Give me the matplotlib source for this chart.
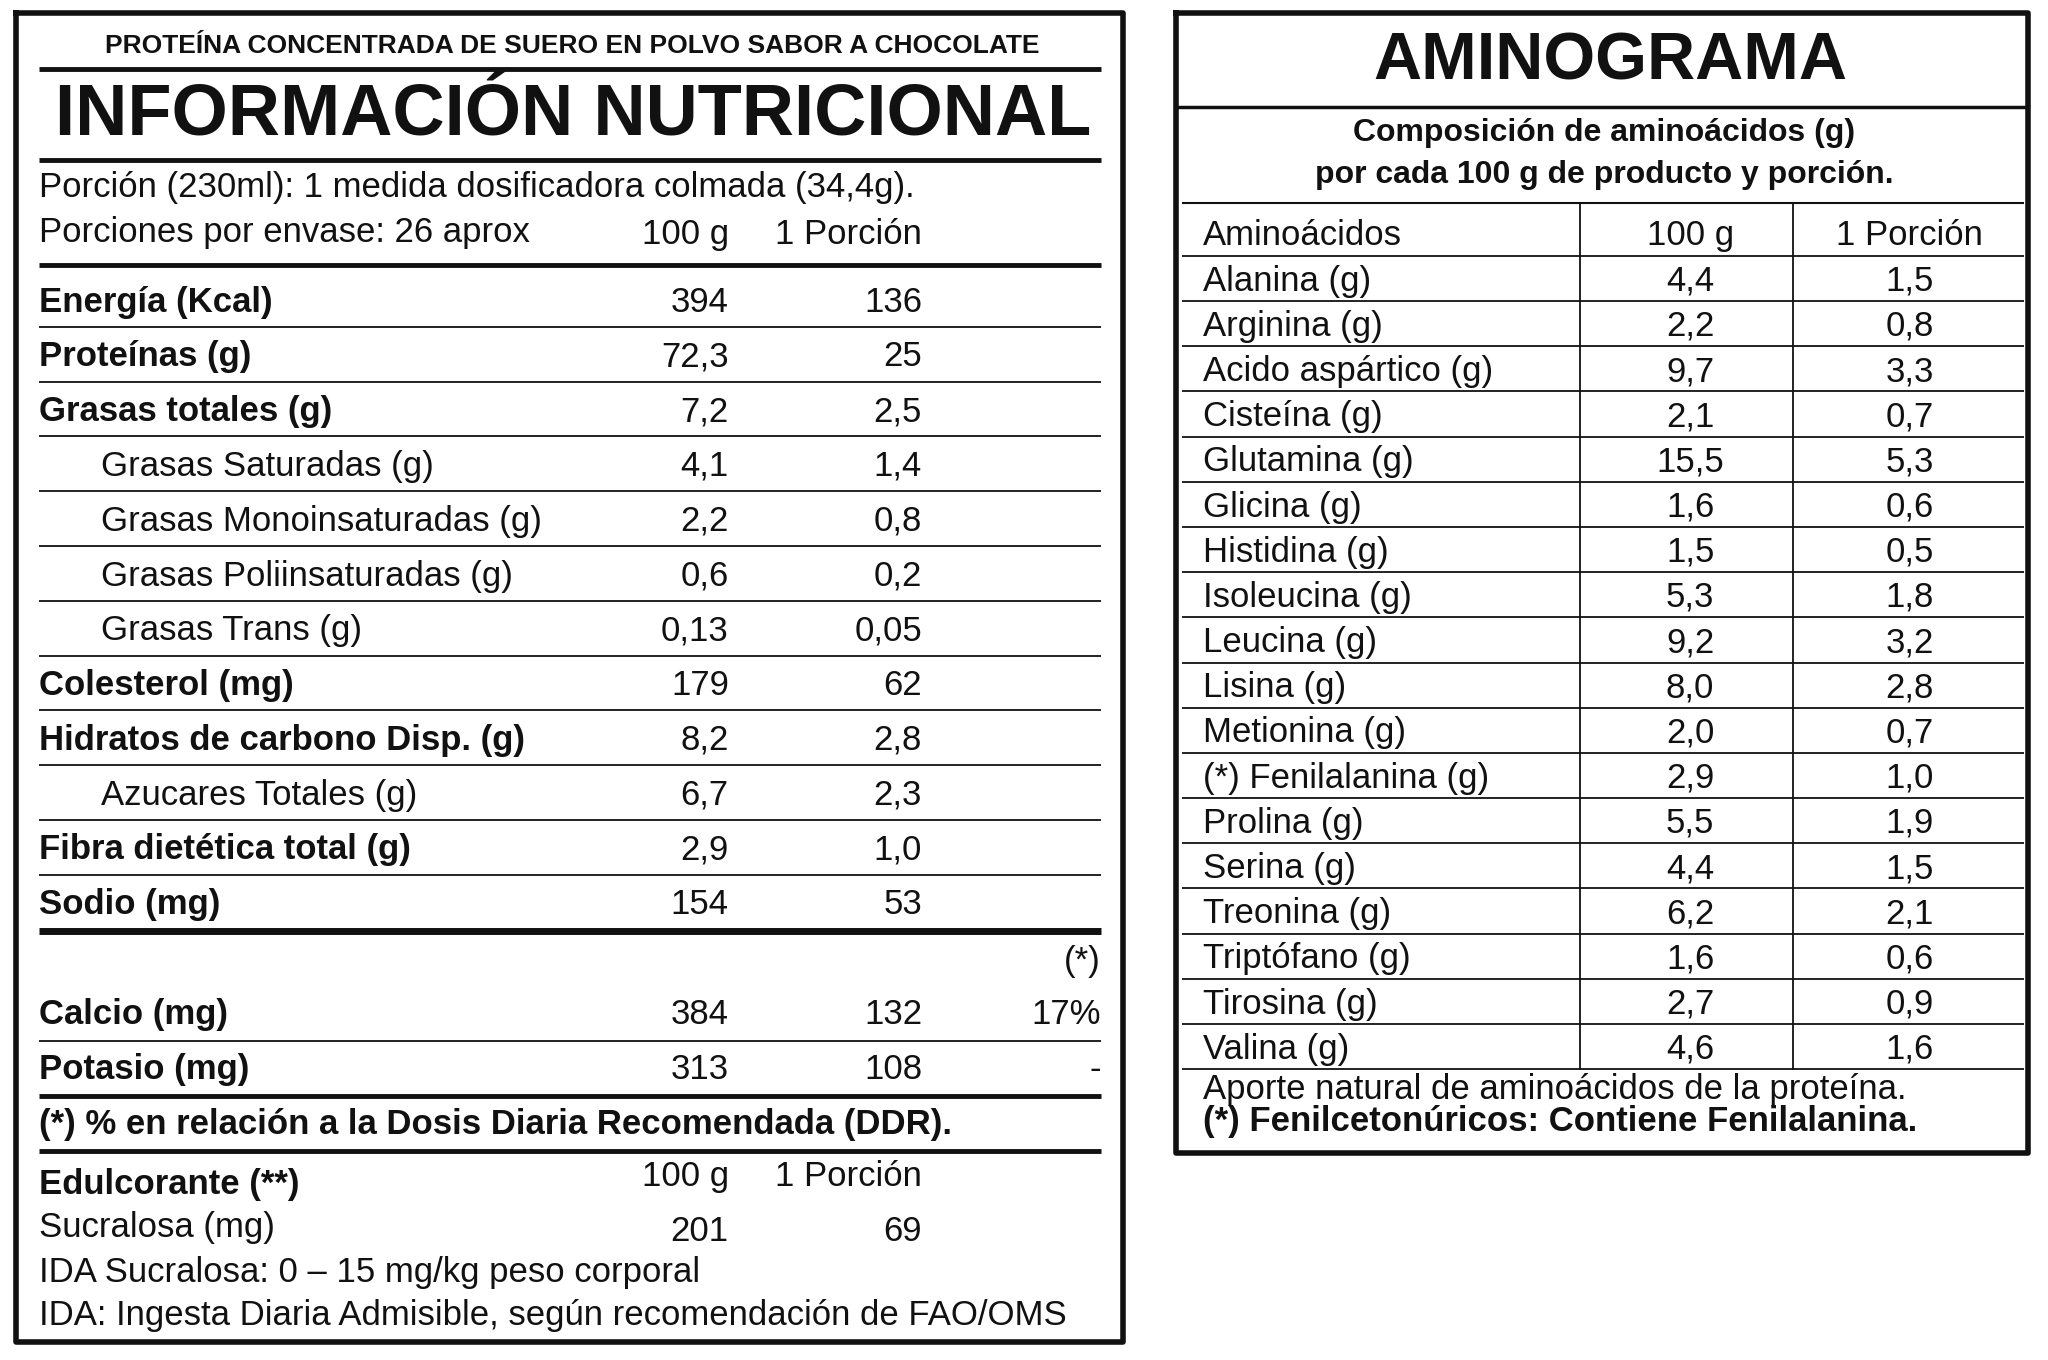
import matplotlib
matplotlib.use("Agg")
import matplotlib.pyplot as plt

plt.rcParams['font.family'] = ['Liberation Sans', 'DejaVu Sans']

# nutrition table data
nut_names = ["Energía (Kcal)", "Proteínas (g)", "Grasas totales (g)", "Grasas Saturadas (g)",
             "Grasas Monoinsaturadas (g)", "Grasas Poliinsaturadas (g)", "Grasas Trans (g)",
             "Colesterol (mg)", "Hidratos de carbono Disp. (g)", "Azucares Totales (g)",
             "Fibra dietética total (g)", "Sodio (mg)"]
nut_bold = [True, True, True, False, False, False, False, True, True, False, True, True]
nut_100g = ["394", "72,3", "7,2", "4,1", "2,2", "0,6", "0,13", "179", "8,2", "6,7", "2,9", "154"]
nut_porc = ["136", "25", "2,5", "1,4", "0,8", "0,2", "0,05", "62", "2,8", "2,3", "1,0", "53"]

min_names = ["Calcio (mg)", "Potasio (mg)"]
min_100g = ["384", "313"]
min_porc = ["132", "108"]
min_ddr = ["17%", "-"]

# amino acid data
amino_names = ["Alanina (g)", "Arginina (g)", "Acido aspártico (g)", "Cisteína (g)", "Glutamina (g)",
               "Glicina (g)", "Histidina (g)", "Isoleucina (g)", "Leucina (g)", "Lisina (g)",
               "Metionina (g)", "(*) Fenilalanina (g)", "Prolina (g)", "Serina (g)", "Treonina (g)",
               "Triptófano (g)", "Tirosina (g)", "Valina (g)"]
amino_100g = ["4,4", "2,2", "9,7", "2,1", "15,5", "1,6", "1,5", "5,3", "9,2", "8,0",
              "2,0", "2,9", "5,5", "4,4", "6,2", "1,6", "2,7", "4,6"]
amino_porc = ["1,5", "0,8", "3,3", "0,7", "5,3", "0,6", "0,5", "1,8", "3,2", "2,8",
              "0,7", "1,0", "1,9", "1,5", "2,1", "0,6", "0,9", "1,6"]

fig = plt.figure(figsize=(20.48, 13.6), dpi=100)
ax = fig.add_axes([0, 0, 1, 1])
ax.set_xlim(0, 1568)
ax.set_ylim(1040, 0)
ax.axis("off")

FS = 25
K = "#111111"


def txt(x, y, s, ha="left", bold=False, size=FS):
    ax.text(x, y + 2, s, ha=ha, va="center", fontsize=size, color=K,
            fontweight="bold" if bold else "normal")


def hline(y, x0, x1, lw=1.3):
    ax.plot([x0, x1], [y, y], color=K, lw=lw, solid_capstyle="butt")


def rect(x0, y0, x1, y1, lw=4):
    ax.plot([x0, x1, x1, x0, x0], [y0, y0, y1, y1, y0], color=K, lw=lw)


# ---- left panel
rect(12, 10, 860, 1026)
txt(438, 33, "PROTEÍNA CONCENTRADA DE SUERO EN POLVO SABOR A CHOCOLATE", ha="center", bold=True, size=19)
hline(53, 30, 843, lw=3.5)
txt(439, 87, "INFORMACIÓN NUTRICIONAL", ha="center", bold=True, size=52)
hline(122, 30, 843, lw=3.5)
txt(30, 141, "Porción (230ml): 1 medida dosificadora colmada (34,4g).")
txt(30, 176, "Porciones por envase: 26 aprox")
c1, c2, c3 = 558, 706, 843
txt(c1, 177, "100 g", ha="right")
txt(c2, 177, "1 Porción", ha="right")
hline(203, 30, 843, lw=3.5)

y0, dy = 229, 41.9
for i, name in enumerate(nut_names):
    y = y0 + i * dy
    x = 30 if nut_bold[i] else 77
    txt(x, y, name, bold=nut_bold[i])
    txt(c1, y, nut_100g[i], ha="right")
    txt(c2, y, nut_porc[i], ha="right")
    if i < len(nut_names) - 1:
        hline(y + dy / 2, 30, 843)
hline(712, 30, 843, lw=5)
txt(c3, 733, "(*)", ha="right")
for i, name in enumerate(min_names):
    y = 774 + i * 42
    txt(30, y, name, bold=True)
    txt(c1, y, min_100g[i], ha="right")
    txt(c2, y, min_porc[i], ha="right")
    txt(c3, y, min_ddr[i], ha="right")
hline(796, 30, 843)
hline(838, 30, 843, lw=3.5)
txt(30, 858, "(*) % en relación a la Dosis Diaria Recomendada (DDR).", bold=True)
hline(880, 30, 843, lw=3.5)
txt(30, 904, "Edulcorante (**)", bold=True)
txt(c1, 898, "100 g", ha="right")
txt(c2, 898, "1 Porción", ha="right")
txt(30, 937, "Sucralosa (mg)")
txt(c1, 940, "201", ha="right")
txt(c2, 940, "69", ha="right")
txt(30, 971, "IDA Sucralosa: 0 – 15 mg/kg peso corporal")
txt(30, 1004, "IDA: Ingesta Diaria Admisible, según recomendación de FAO/OMS")

# ---- right panel
rect(900, 10, 1553, 882)
txt(1233, 46, "AMINOGRAMA", ha="center", bold=True, size=48)
hline(82, 900, 1553, lw=2.5)
txt(1228, 100, "Composición de aminoácidos (g)", ha="center", bold=True, size=23)
txt(1228, 132, "por cada 100 g de producto y porción.", ha="center", bold=True, size=23)
hline(155, 905, 1550, lw=1.5)
txt(921, 178, "Aminoácidos")
txt(1294, 178, "100 g", ha="center")
txt(1462, 178, "1 Porción", ha="center")
ry0, rdy = 213, 34.55
hline(ry0 - rdy / 2, 905, 1550)
for i, name in enumerate(amino_names):
    y = ry0 + i * rdy
    txt(921, y, name)
    txt(1294, y, amino_100g[i], ha="center")
    txt(1462, y, amino_porc[i], ha="center")
    hline(y + rdy / 2, 905, 1550)
y_end = ry0 + (len(amino_names) - 1) * rdy + rdy / 2
for xv in (1210, 1373):
    ax.plot([xv, xv], [155, y_end], color=K, lw=1.3)
txt(921, 831, "Aporte natural de aminoácidos de la proteína.")
txt(921, 856, "(*) Fenilcetonúricos: Contiene Fenilalanina.", bold=True)

fig.savefig("out.png", dpi=100, facecolor="white")
